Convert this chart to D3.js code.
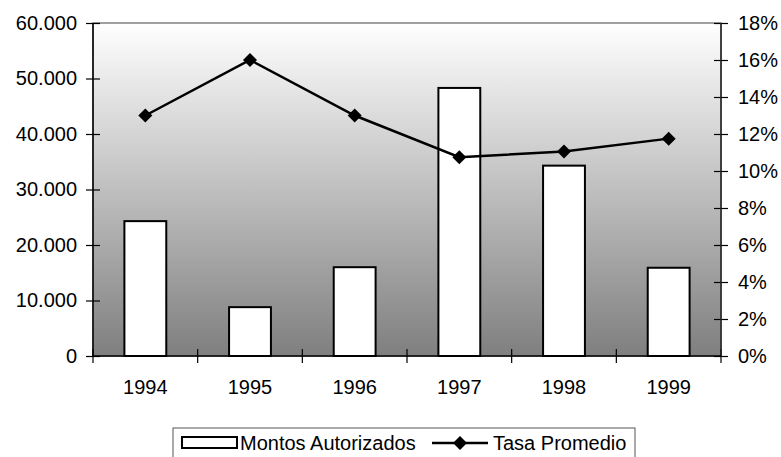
<!DOCTYPE html>
<html>
<head>
<meta charset="utf-8">
<script src="https://cdn.jsdelivr.net/npm/d3@7"></script>
<style>
  body { margin: 0; background: #fff; }
  svg { display: block; }
</style>
</head>
<body>
<svg width="781" height="457"></svg>
<script>
const years = ['1994', '1995', '1996', '1997', '1998', '1999'];
const montos = [24300, 8800, 16000, 48300, 34300, 15900];
const tasa = [0.13, 0.16, 0.13, 0.1075, 0.1105, 0.1175];
const leftTicks = [0, 10000, 20000, 30000, 40000, 50000, 60000];
const rightTicks = [0, 0.02, 0.04, 0.06, 0.08, 0.10, 0.12, 0.14, 0.16, 0.18];

const svg = d3.select('svg');
const font = '"Liberation Sans", Arial, sans-serif';
const fs = 20;

const plotL = 93, plotR = 721, plotT = 23, plotB = 356;

const x = d3.scaleBand().domain(years).range([plotL, plotR]).paddingInner(0.6).paddingOuter(0.3);
const xb = d3.scaleBand().domain(years).range([plotL, plotR]);
const yL = d3.scaleLinear().domain([0, 60000]).range([plotB, plotT]);
const yR = d3.scaleLinear().domain([0, 0.18]).range([plotB, plotT]);

// plot background gradient
const grad = svg.append('defs').append('linearGradient')
    .attr('id', 'bg').attr('x1', 0).attr('y1', 0).attr('x2', 0).attr('y2', 1);
grad.append('stop').attr('offset', '0%').attr('stop-color', '#ffffff');
grad.append('stop').attr('offset', '100%').attr('stop-color', '#7f7f7f');

svg.append('rect')
    .attr('x', plotL).attr('y', plotT)
    .attr('width', plotR - plotL).attr('height', plotB - plotT)
    .attr('fill', 'url(#bg)')
    .attr('stroke', '#808080').attr('stroke-width', 1.5);

// bars
svg.selectAll('.bar').data(years).enter().append('rect')
    .attr('class', 'bar')
    .attr('x', d => x(d))
    .attr('width', x.bandwidth())
    .attr('y', (d, i) => yL(montos[i]))
    .attr('height', (d, i) => plotB - yL(montos[i]))
    .attr('fill', '#fff')
    .attr('stroke', '#000')
    .attr('stroke-width', 2);

// line
const cx = d => xb(d) + xb.bandwidth() / 2;
const line = d3.line().x((d, i) => cx(years[i])).y(d => yR(d));
svg.append('path')
    .datum(tasa)
    .attr('d', line)
    .attr('fill', 'none')
    .attr('stroke', '#000')
    .attr('stroke-width', 2.5);

const diamond = 'M0,-7L7,0L0,7L-7,0Z';
svg.selectAll('.pt').data(tasa).enter().append('path')
    .attr('class', 'pt')
    .attr('d', diamond)
    .attr('transform', (d, i) => `translate(${cx(years[i])},${yR(d)})`)
    .attr('fill', '#000');

// axes
const axisStyle = g => {
    g.select('.domain').remove();
    g.selectAll('line').attr('stroke', '#000').attr('stroke-width', 1.2);
    g.selectAll('text').style('font-family', font).style('font-size', fs + 'px').attr('fill', '#000');
};

const fmtL = d => d3.format(',')(d).replace(/,/g, '.');
svg.append('g')
    .attr('transform', `translate(${plotL},0)`)
    .call(d3.axisLeft(yL).tickValues(leftTicks).tickFormat(fmtL).tickSizeInner(7).tickSizeOuter(0).tickPadding(9))
    .call(axisStyle)
    .call(g => g.selectAll('line').attr('x2', 7).attr('x1', -7));

svg.append('g')
    .attr('transform', `translate(${plotR},0)`)
    .call(d3.axisRight(yR).tickValues(rightTicks).tickFormat(d3.format('.0%')).tickSizeInner(7).tickSizeOuter(0).tickPadding(10))
    .call(axisStyle)
    .call(g => g.selectAll('line').attr('x1', -7).attr('x2', 7));

// category axis: ticks at band boundaries
const boundaries = years.map(d => xb(d)).concat([plotR]);
svg.append('g').selectAll('line').data(boundaries).enter().append('line')
    .attr('x1', d => d).attr('x2', d => d)
    .attr('y1', plotB - 7).attr('y2', plotB + 7)
    .attr('stroke', '#000').attr('stroke-width', 1.2);
svg.append('g').selectAll('text').data(years).enter().append('text')
    .attr('x', d => cx(d))
    .attr('y', 394)
    .attr('text-anchor', 'middle')
    .style('font-family', font).style('font-size', fs + 'px')
    .text(d => d);

// axis lines
svg.append('line').attr('x1', plotL).attr('x2', plotL).attr('y1', plotT).attr('y2', plotB)
    .attr('stroke', '#000').attr('stroke-width', 1.5);
svg.append('line').attr('x1', plotR).attr('x2', plotR).attr('y1', plotT).attr('y2', plotB)
    .attr('stroke', '#222').attr('stroke-width', 1.5);
svg.append('line').attr('x1', plotL).attr('x2', plotR).attr('y1', plotB).attr('y2', plotB)
    .attr('stroke', '#000').attr('stroke-width', 1.5);

// legend
const lg = svg.append('g');
lg.append('rect')
    .attr('x', 173).attr('y', 428).attr('width', 462).attr('height', 40)
    .attr('fill', '#fff').attr('stroke', '#555').attr('stroke-width', 1);
lg.append('rect')
    .attr('x', 182).attr('y', 437).attr('width', 55).attr('height', 11)
    .attr('fill', '#fff').attr('stroke', '#000').attr('stroke-width', 2);
lg.append('text').attr('x', 240).attr('y', 450)
    .style('font-family', font).style('font-size', fs + 'px')
    .text('Montos Autorizados');
lg.append('line').attr('x1', 432).attr('x2', 488).attr('y1', 443).attr('y2', 443)
    .attr('stroke', '#000').attr('stroke-width', 2.5);
lg.append('path').attr('d', diamond).attr('transform', 'translate(460,443)').attr('fill', '#000');
lg.append('text').attr('x', 493).attr('y', 450)
    .style('font-family', font).style('font-size', fs + 'px')
    .text('Tasa Promedio');
</script>
</body>
</html>
